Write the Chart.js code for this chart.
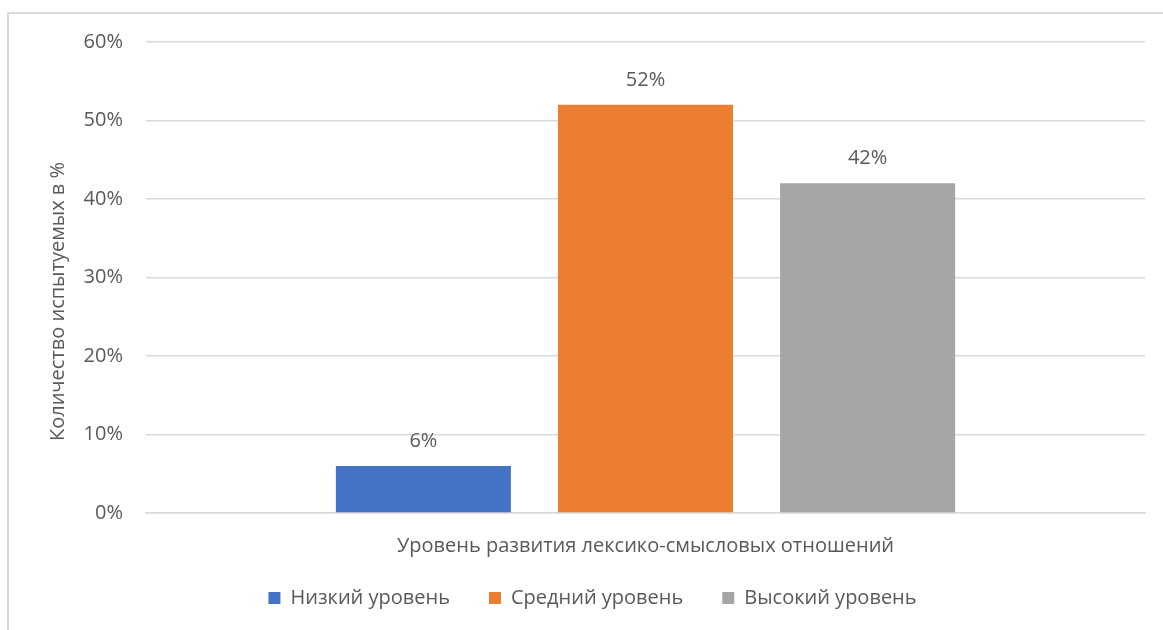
<!DOCTYPE html>
<html>
<head>
<meta charset="utf-8">
<script src="https://cdn.jsdelivr.net/npm/chart.js@4.4.1/dist/chart.umd.min.js"></script>
<style>
  body { margin: 0; background: #fff; }
  #frame {
    position: absolute; left: 7px; top: 12px;
    width: 1170px; height: 640px;
    border: 2px solid #d9d9d9; box-sizing: border-box;
  }
  #wrap { position: absolute; left: 0; top: 0; width: 1163px; height: 630px; }
</style>
</head>
<body>
<div id="frame"></div>
<div id="wrap"><canvas id="chart"></canvas></div>
<script>
// Data
const categories = ["Уровень развития лексико-смысловых отношений"];
const seriesNames = ["Низкий уровень", "Средний уровень", "Высокий уровень"];
const lowValues = [6];
const midValues = [52];
const highValues = [42];
const seriesColors = ["#4472C4", "#ED7D31", "#A5A5A5"];
const yTitle = "Количество испытуемых в %";

const textColor = "#595959";
const fontFamily = "'Open Sans', Lato, sans-serif";

// Value labels above the bars + y axis title (sits a bit low, like Excel does)
const barLabels = {
    id: "barLabels",
    afterLayout(chart) {
        // pull the legend row up a little, keeps the wide item spacing
        chart.legend.top -= 12;
        chart.legend.bottom -= 12;
    },
    afterDatasetsDraw(chart) {
        const ctx = chart.ctx;
        ctx.save();
        ctx.fillStyle = textColor;
        ctx.font = "20px " + fontFamily;
        ctx.textAlign = "center";
        ctx.textBaseline = "alphabetic";
        chart.data.datasets.forEach((ds, i) => {
            chart.getDatasetMeta(i).data.forEach((bar, j) => {
                ctx.fillText(ds.data[j] + "%", bar.x, bar.y - 19);
            });
        });
        ctx.restore();
    },
    afterDraw(chart) {
        const ctx = chart.ctx;
        const area = chart.chartArea;
        ctx.save();
        ctx.translate(58, (area.top + area.bottom) / 2 + 24);
        ctx.rotate(-Math.PI / 2);
        ctx.fillStyle = textColor;
        ctx.font = "20px " + fontFamily;
        ctx.textAlign = "center";
        ctx.textBaseline = "middle";
        ctx.fillText(yTitle, 0, 0);
        ctx.restore();
    }
};

const ctx = document.getElementById("chart").getContext("2d");
new Chart(ctx, {
    type: "bar",
    data: {
        labels: categories,
        datasets: [
            { label: seriesNames[0], data: lowValues, backgroundColor: seriesColors[0] },
            { label: seriesNames[1], data: midValues, backgroundColor: seriesColors[1] },
            { label: seriesNames[2], data: highValues, backgroundColor: seriesColors[2] }
        ]
    },
    options: {
        responsive: true,
        maintainAspectRatio: false,
        animation: false,
        categoryPercentage: 0.667,
        barPercentage: 0.788,
        layout: { padding: { left: 40, right: 18, top: 42, bottom: 0 } },
        scales: {
            y: {
                min: 0, max: 60,
                ticks: {
                    stepSize: 10,
                    padding: 23,
                    color: textColor,
                    font: { family: fontFamily, size: 20 },
                    callback: v => v + "%"
                },
                grid: { color: "#D9D9D9", lineWidth: 1.5, drawTicks: false },
                border: { display: false },
                afterFit: scale => { scale.width = 106; }
            },
            x: {
                ticks: {
                    padding: 21,
                    color: textColor,
                    font: { family: fontFamily, size: 20 }
                },
                grid: { display: false, drawTicks: false },
                border: { color: "#D9D9D9", width: 1.5 },
                afterFit: scale => { scale.height = 48; }
            }
        },
        plugins: {
            legend: {
                position: "bottom",
                labels: {
                    color: textColor,
                    font: { family: fontFamily, size: 20 },
                    boxWidth: 12,
                    boxHeight: 12,
                    padding: 39
                }
            },
            tooltip: { enabled: false }
        }
    },
    plugins: [barLabels]
});
</script>
</body>
</html>
